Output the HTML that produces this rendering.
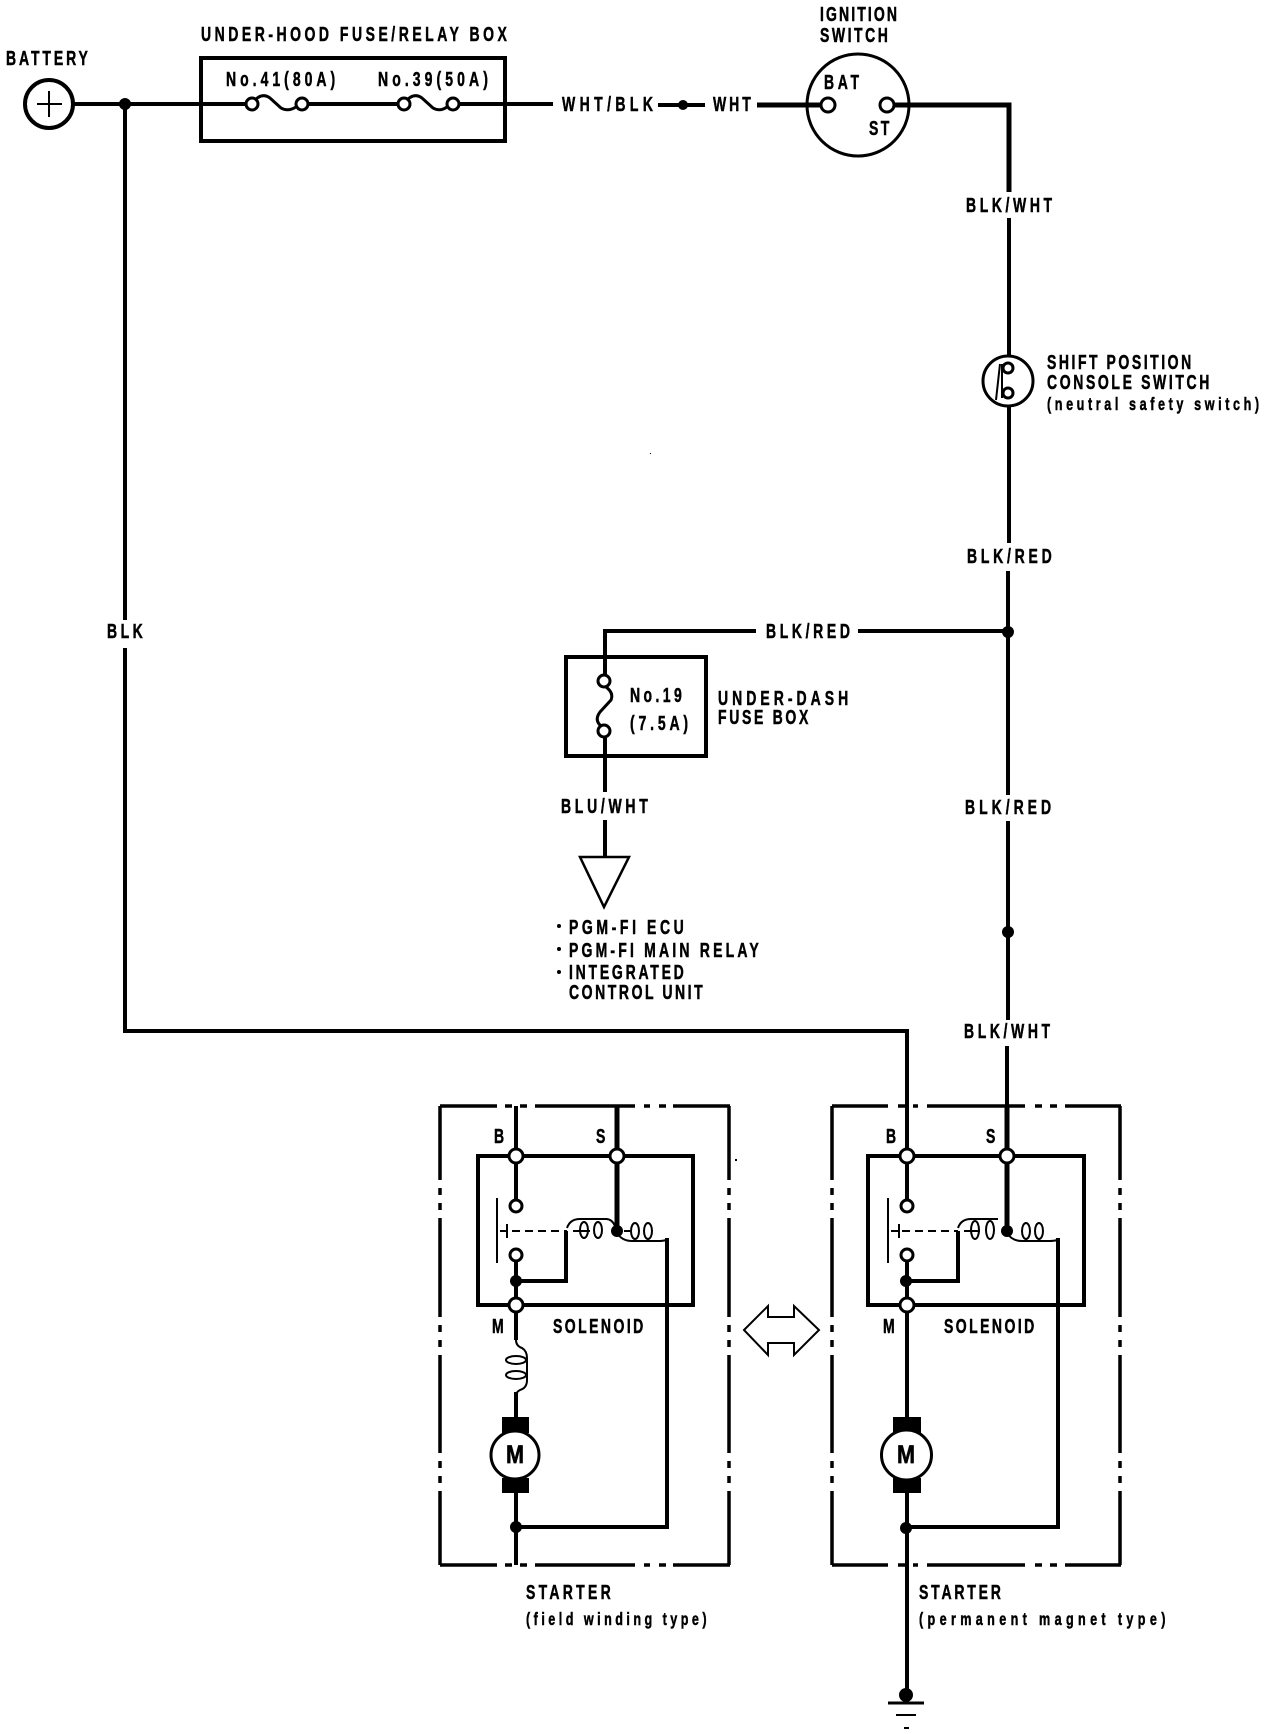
<!DOCTYPE html>
<html><head><meta charset="utf-8"><style>
html,body{margin:0;padding:0;background:#fff}
svg{display:block}
text{font-family:"Liberation Sans",sans-serif;font-size:20px;font-weight:bold;fill:#000;stroke:#000;stroke-width:.5}
.s{font-size:18px}
.w{fill:none;stroke:#000;stroke-width:4}
.k{fill:none;stroke:#000;stroke-width:5}
.b{fill:none;stroke:#000;stroke-width:3}
.t{fill:none;stroke:#000;stroke-width:2}
.n{fill:#fff;stroke:#000;stroke-width:3}
.d{fill:#000}
</style></head><body>
<svg xmlns="http://www.w3.org/2000/svg" width="1280" height="1734" viewBox="0 0 1280 1734">
<rect width="1280" height="1734" fill="#fff"/>
<!-- wires -->
<path class="w" d="M72 104H246M308 104H398M458 104H553M658 105H705"/>
<path class="k" d="M757 105H820M894 105H1009V192"/>
<path class="w" d="M1009 218V356M1009 407V543M1008 571V795M1008 821V1020M1007 1046V1106"/>
<path class="w" d="M125 104V620M125 648V1031H907V1106"/>
<path class="w" d="M756 631H605V681M858 631H1008M605 737V792M605 820V857"/>
<circle class="d" cx="125" cy="104" r="6"/>
<circle class="d" cx="683" cy="105" r="5"/>
<circle class="d" cx="1008" cy="632" r="6"/>
<circle class="d" cx="1008" cy="932" r="6"/>
<!-- battery -->
<circle class="b" cx="49" cy="104" r="24" style="stroke-width:4"/>
<path class="t" d="M37 104H62M49 91V117"/>
<!-- fuse box -->
<rect class="b" x="201" y="58" width="304" height="83" style="stroke-width:4"/>
<circle class="n" cx="252" cy="104" r="6"/><circle class="n" cx="302" cy="104" r="6"/>
<circle class="n" cx="404" cy="104" r="6"/><circle class="n" cx="453" cy="104" r="6"/>
<path class="b" d="M256 99Q263 93 270 98L281 108Q288 112 296 107M408 99Q415 93 422 98L433 108Q440 112 447 107"/>
<!-- ignition -->
<circle class="b" cx="858" cy="105" r="51"/>
<circle class="n" cx="828" cy="105" r="7"/><circle class="n" cx="887" cy="105" r="7"/>
<!-- shift -->
<circle class="b" cx="1008" cy="381" r="25"/>
<circle class="n" cx="1008" cy="368" r="5"/><circle class="n" cx="1008" cy="393" r="5"/>
<path class="t" d="M1000 364L996 400M1002 364V398"/>
<!-- underdash -->
<rect class="b" x="566" y="657" width="140" height="99" style="stroke-width:4"/>
<circle class="n" cx="604" cy="681" r="6"/><circle class="n" cx="604" cy="731" r="6"/>
<path class="b" d="M606 687Q614 693 611 700L600 712Q594 720 601 726"/>
<path class="t" d="M580 857H629L604 907Z" style="stroke-width:2.5"/>
<circle class="d" cx="559" cy="926" r="2"/><circle class="d" cx="559" cy="949" r="2"/><circle class="d" cx="559" cy="972" r="2"/>
<!-- left starter -->
<g fill="none" stroke="#000" stroke-width="3.5">
<path d="M440 1106H730" stroke-dasharray="57 8 7 8 7 8 100 9 6 9 7 7 57"/>
<path d="M440 1565H730" stroke-dasharray="57 8 7 8 7 8 100 9 6 9 7 7 57"/>
<path d="M440 1106V1565" stroke-dasharray="74 8 7 8 7 8 99 8 7 8 7 8 98 8 7 8 7 8 74"/>
<path d="M729 1106V1565" stroke-dasharray="74 8 7 8 7 8 99 8 7 8 7 8 98 8 7 8 7 8 74"/>
</g>
<rect class="b" x="478" y="1156" width="215" height="149" style="stroke-width:4"/>
<path class="w" d="M516 1106V1156M516 1156V1200M516 1262V1305M516 1281H566V1231M516 1305V1340M516 1392V1417M516 1492V1565M516 1527H667V1238"/>
<path class="k" d="M617 1106V1231"/>
<path class="t" d="M497 1198V1263M507 1224V1238M500 1231H507"/>
<path class="t" d="M512 1231H567" stroke-dasharray="8 5"/>
<path class="t" d="M567 1228Q570 1219 580 1219H606Q612 1219 615 1226M590 1231H573M617 1233Q622 1241 632 1241H660Q662 1241 667 1240M624 1231H630"/>
<ellipse class="t" cx="584" cy="1230" rx="4" ry="8"/><ellipse class="t" cx="598" cy="1230" rx="4" ry="8"/>
<ellipse class="t" cx="635" cy="1231" rx="4" ry="8"/><ellipse class="t" cx="648" cy="1231" rx="4" ry="8"/>
<circle class="d" cx="617" cy="1231" r="6"/>
<circle class="d" cx="516" cy="1281" r="6"/>
<circle class="d" cx="516" cy="1527" r="6"/>
<circle class="n" cx="516" cy="1156" r="7"/><circle class="n" cx="617" cy="1156" r="7"/><circle class="n" cx="516" cy="1305" r="7"/>
<circle class="n" cx="516" cy="1206" r="6"/><circle class="n" cx="516" cy="1255" r="6"/>
<path class="t" d="M516 1340Q516 1346 522 1348Q527 1351 527 1358V1380Q527 1388 520 1390Q516 1392 516 1396"/>
<ellipse class="t" cx="516" cy="1360" rx="10" ry="4"/><ellipse class="t" cx="516" cy="1375" rx="10" ry="4"/>
<rect class="d" x="502" y="1417" width="27" height="16"/>
<rect class="d" x="502" y="1478" width="27" height="15"/>
<circle cx="515" cy="1455" r="24" fill="#fff" stroke="#000" stroke-width="3"/>
<!-- arrow -->
<path class="t" d="M744 1330L768 1306V1317H794V1306L819 1330L794 1355V1343H768V1355Z"/>
<!-- right starter -->
<g fill="none" stroke="#000" stroke-width="3.5">
<path d="M832 1106H1121" stroke-dasharray="56 10 7 8 5 9 98 10 7 8 7 8 56"/>
<path d="M832 1565H1121" stroke-dasharray="56 10 7 8 5 9 98 10 7 8 7 8 56"/>
<path d="M832 1106V1565" stroke-dasharray="74 8 7 8 7 8 99 8 7 8 7 8 98 8 7 8 7 8 74"/>
<path d="M1120 1106V1565" stroke-dasharray="74 8 7 8 7 8 99 8 7 8 7 8 98 8 7 8 7 8 74"/>
</g>
<rect class="b" x="868" y="1156" width="216" height="149" style="stroke-width:4"/>
<path class="w" d="M907 1106V1156M907 1156V1200M907 1262V1305M907 1281H958V1231M907 1305V1417M907 1492V1694M907 1527H1058V1238"/>
<path class="k" d="M1007 1106V1231"/>
<path class="t" d="M888 1198V1263M899 1224V1238M891 1231H899"/>
<path class="t" d="M902 1231H958" stroke-dasharray="8 5"/>
<path class="t" d="M958 1228Q961 1219 971 1219H998M980 1231H964M1007 1233Q1012 1241 1022 1241H1050Q1053 1241 1058 1240"/>
<ellipse class="t" cx="975" cy="1230" rx="4" ry="9"/><ellipse class="t" cx="990" cy="1230" rx="4" ry="9"/>
<ellipse class="t" cx="1026" cy="1231" rx="4" ry="8"/><ellipse class="t" cx="1039" cy="1231" rx="4" ry="8"/>
<circle class="d" cx="1007" cy="1231" r="6"/>
<circle class="d" cx="906" cy="1281" r="6"/>
<circle class="d" cx="906" cy="1528" r="6"/>
<circle class="n" cx="907" cy="1156" r="7"/><circle class="n" cx="1007" cy="1156" r="7"/><circle class="n" cx="907" cy="1305" r="7"/>
<circle class="n" cx="907" cy="1206" r="6"/><circle class="n" cx="907" cy="1255" r="6"/>
<rect class="d" x="893" y="1417" width="28" height="16"/>
<rect class="d" x="893" y="1478" width="28" height="15"/>
<circle cx="906.5" cy="1455" r="25" fill="#fff" stroke="#000" stroke-width="3"/>
<!-- ground -->
<circle class="d" cx="906" cy="1695" r="7"/>
<path class="b" d="M888 1703H924"/><path class="t" d="M896 1715H916M904 1728H909"/>
<!-- specks -->
<rect class="d" x="735" y="1159" width="2" height="2"/><rect class="d" x="650" y="453" width="1" height="1"/>
<!-- text -->
<text transform="translate(6 65) scale(.7 1)" textLength="117">BATTERY</text>
<text transform="translate(201 41) scale(.7 1)" textLength="437">UNDER-HOOD FUSE/RELAY BOX</text>
<text transform="translate(226 86) scale(.7 1)" textLength="156">No.41(80A)</text>
<text transform="translate(378 86) scale(.7 1)" textLength="157">No.39(50A)</text>
<text transform="translate(562 111) scale(.7 1)" textLength="130">WHT/BLK</text>
<text transform="translate(713 111) scale(.7 1)" textLength="54">WHT</text>
<text transform="translate(820 21) scale(.7 1)" textLength="110">IGNITION</text>
<text transform="translate(820 42) scale(.7 1)" textLength="97">SWITCH</text>
<text transform="translate(824 89) scale(.7 1)" textLength="50">BAT</text>
<text transform="translate(869 135) scale(.7 1)" textLength="29">ST</text>
<text transform="translate(966 212) scale(.7 1)" textLength="123">BLK/WHT</text>
<text transform="translate(1047 369) scale(.7 1)" textLength="206">SHIFT POSITION</text>
<text transform="translate(1047 389) scale(.7 1)" textLength="232">CONSOLE SWITCH</text>
<text class="s" transform="translate(1047 410) scale(.7 1)" textLength="303">(neutral safety switch)</text>
<text transform="translate(967 563) scale(.7 1)" textLength="121">BLK/RED</text>
<text transform="translate(107 638) scale(.7 1)" textLength="51">BLK</text>
<text transform="translate(766 638) scale(.7 1)" textLength="120">BLK/RED</text>
<text transform="translate(630 702) scale(.7 1)" textLength="74">No.19</text>
<text transform="translate(630 730) scale(.7 1)" textLength="83">(7.5A)</text>
<text transform="translate(718 705) scale(.7 1)" textLength="186">UNDER-DASH</text>
<text transform="translate(718 724) scale(.7 1)" textLength="129">FUSE BOX</text>
<text transform="translate(561 813) scale(.7 1)" textLength="124">BLU/WHT</text>
<text transform="translate(965 814) scale(.7 1)" textLength="123">BLK/RED</text>
<text transform="translate(569 934) scale(.7 1)" textLength="164">PGM-FI ECU</text>
<text transform="translate(569 957) scale(.7 1)" textLength="271">PGM-FI MAIN RELAY</text>
<text transform="translate(569 979) scale(.7 1)" textLength="164">INTEGRATED</text>
<text transform="translate(569 999) scale(.7 1)" textLength="191">CONTROL UNIT</text>
<text transform="translate(964 1038) scale(.7 1)" textLength="123">BLK/WHT</text>
<text transform="translate(494 1143) scale(.7 1)">B</text>
<text transform="translate(596 1143) scale(.7 1)">S</text>
<text transform="translate(886 1143) scale(.7 1)">B</text>
<text transform="translate(986 1143) scale(.7 1)">S</text>
<text transform="translate(492 1333) scale(.7 1)">M</text>
<text transform="translate(883 1333) scale(.7 1)">M</text>
<text transform="translate(553 1333) scale(.7 1)" textLength="129">SOLENOID</text>
<text transform="translate(944 1333) scale(.7 1)" textLength="129">SOLENOID</text>
<text transform="translate(506 1463) scale(1.08 1.25)">M</text>
<text transform="translate(897 1463) scale(1.08 1.25)">M</text>
<text transform="translate(526 1599) scale(.7 1)" textLength="121">STARTER</text>
<text class="s" transform="translate(526 1625) scale(.7 1)" textLength="258">(field winding type)</text>
<text transform="translate(919 1599) scale(.7 1)" textLength="117">STARTER</text>
<text class="s" transform="translate(919 1625) scale(.7 1)" textLength="352">(permanent magnet type)</text>
</svg>
</body></html>
